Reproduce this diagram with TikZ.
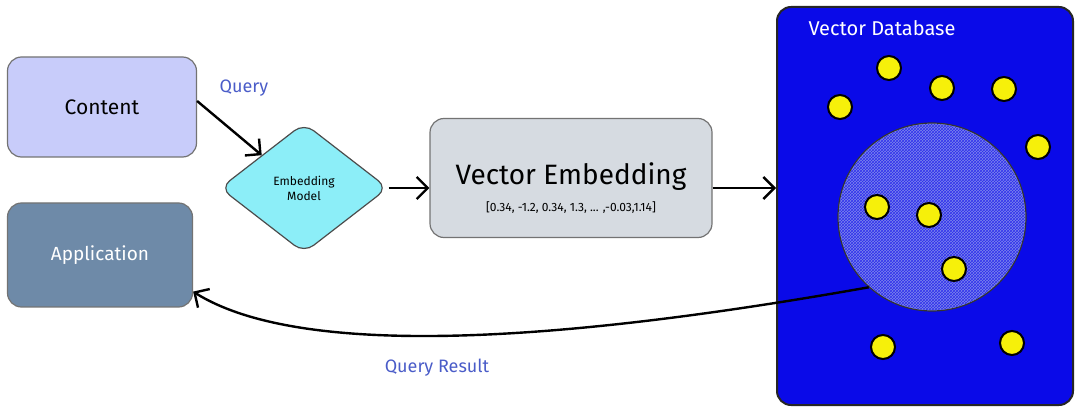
\documentclass[tikz,border=0pt]{standalone}
\usepackage{fontspec}
\setmainfont{Fira Sans}
\usetikzlibrary{shapes.geometric,arrows.meta,patterns,positioning}

\definecolor{contentfill}{RGB}{200,204,250}
\definecolor{appfill}{RGB}{110,138,168}
\definecolor{modelfill}{RGB}{140,238,248}
\definecolor{vecfill}{RGB}{214,219,225}
\definecolor{dbfill}{RGB}{10,10,232}
\definecolor{nearfill}{RGB}{125,135,235}
\definecolor{dotfill}{RGB}{246,240,10}
\definecolor{labelblue}{RGB}{74,92,200}

\begin{document}
\begin{tikzpicture}[
    x=1pt, y=-1pt,
    box/.style ={
        draw=black!55,
        line width=1.2pt,
        rounded corners=14pt
    },
    arr/.style ={
        line width=2.4pt,
        -{Straight Barb[length=11pt,width=22pt,line width=2.4pt]}
    },
    lbl/.style ={
        text=labelblue,
        font=\fontsize{18}{20}\selectfont
    },
    dot/.style ={
        circle,
        fill=dotfill,
        draw=black,
        line width=2pt,
        minimum size=24pt,
        inner sep=0pt
    }
    ]
    \useasboundingbox (0,0) rectangle (1080,414);

    \node[box, fill=contentfill, minimum width=189pt, minimum height=100pt,
          font=\fontsize{21}{24}\selectfont] (content) at (102,107) {Content};
    \node[box, fill=appfill, text=white, minimum width=185pt, minimum height=104pt,
          font=\fontsize{19}{22}\selectfont] (app) at (100,255) {Application};
    \node[lbl] (query) at (244,88) {Query};

    \node[diamond, draw=black!70, line width=1.2pt, fill=modelfill, rounded corners=12pt,
          minimum width=168pt, minimum height=130pt, inner sep=0pt, align=center,
          font=\fontsize{12}{15}\selectfont] (model) at (304,188) {Embedding\\Model};

    \node[box, fill=vecfill, minimum width=282pt, minimum height=119pt] (vec) at (571,178) {};
    \node[font=\fontsize{28}{30}\selectfont] (vectitle) at (571,177) {Vector Embedding};
    \node[font=\fontsize{12}{14}\selectfont] (vecvals) at (571,208) {[0.34, -1.2, 0.34, 1.3, ... ,-0.03,1.14]};

    \node[box, draw=black!85, line width=2pt, fill=dbfill, minimum width=296pt, minimum height=398pt] (db) at (925,206) {};
    \node[text=white, font=\fontsize{20}{22}\selectfont] (dbtitle) at (882,28) {Vector Database};

    \node[circle, draw=black!80, line width=1.2pt, fill=nearfill, minimum size=188pt] (near) at (932,217) {};
    \fill[pattern=crosshatch, pattern color=dbfill!85] (near.center) circle (93pt);

    \foreach \name/ \pos in {{d1/(889,68)}, {d2/(942,88)}, {d3/(1004,89)}, {d4/(840,107)},
                            {d5/(1038,147)}, {d6/(877,207)}, {d7/(929,215)}, {d8/(954,269)},
                            {d9/(883,347)}, {d10/(1012,343)}}
        \node[dot] (\name) at \pos {};

    \draw[arr] ([yshift=6pt]content.east) -- (model.north west);
    \draw[arr] (model.east) -- (model.east -| vec.west);
    \draw[arr] (model.east -| vec.east) -- (model.east -| db.west);

    \coordinate (rstart) at (near.228);
    \coordinate (rend) at ([yshift=16pt]app.south east);
    \draw[arr] (rstart) .. controls (600,335) and (310,365) .. (rend);
    \node[lbl] (result) at (437,368) {Query Result};

\end{tikzpicture}
\end{document}
